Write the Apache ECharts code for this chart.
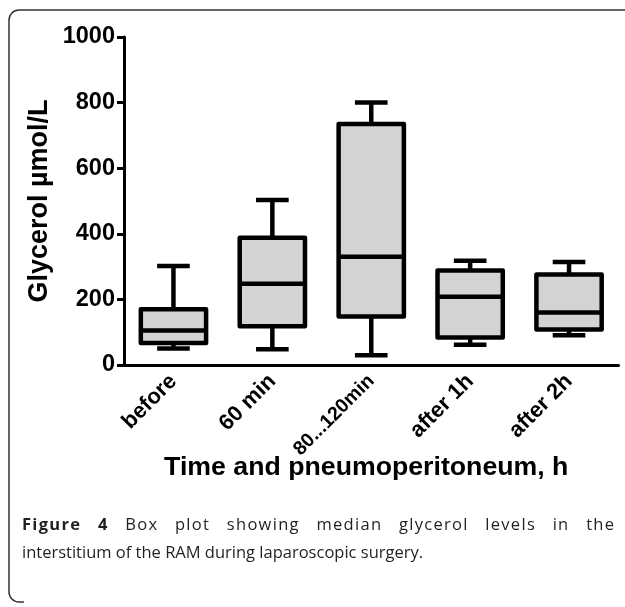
<!DOCTYPE html>
<html>
<head>
<meta charset="utf-8">
<script src="https://cdn.jsdelivr.net/npm/echarts@6/dist/echarts.min.js"></script>
<style>
    html, body { margin: 0; padding: 0; background: #fff; }
    #chartMain { width: 625px; height: 607px; }
</style>
</head>
<body>
<div id="chartMain"></div>
<script>
    // time points
    const categories = ['before', '60 min', '80...120min', 'after 1h', 'after 2h'];
    // glycerol, µmol/L : lower whisker, Q1, median, Q3, upper whisker
    const lows    = [50, 48, 30, 62, 91];
    const q1      = [67, 118, 148, 84, 108];
    const medians = [105, 248, 330, 208, 160];
    const q3      = [170, 388, 735, 288, 276];
    const highs   = [302, 503, 800, 318, 314];
    const yTicks  = { min: 0, max: 1000, interval: 200 };

    const axisFont = '"Liberation Sans", Arial, sans-serif';
    const capFont = '"Open Sans", "Noto Sans", sans-serif';

    let myChart = echarts.init(document.getElementById('chartMain'));

    // caption, first line is justified with a little letter spacing
    const line1 = [
        { t: 'Figure', b: true }, { t: '4', b: true },
        { t: 'Box' }, { t: 'plot' }, { t: 'showing' }, { t: 'median' },
        { t: 'glycerol' }, { t: 'levels' }, { t: 'in' }, { t: 'the' }
    ];
    const line2 = 'interstitium of the RAM during laparoscopic surgery.';

    let measure = document.createElement('canvas').getContext('2d');
    function fontOf(bold) {
        return (bold ? 'bold ' : '') + '16.5px ' + capFont;
    }
    let caption = [];
    let x0 = 22, x1 = 614;
    let letterSp = 1.3;
    let total = 0, letterGaps = 0;
    line1.forEach((w) => {
        measure.font = fontOf(w.b);
        w.chars = w.t.split('').map((ch) => measure.measureText(ch).width);
        total += w.chars.reduce((a, b) => a + b, 0);
        letterGaps += w.chars.length - 1;
    });
    let wordGap = (x1 - x0 - total - letterGaps * letterSp) / (line1.length - 1);
    let cx = x0;
    line1.forEach((w) => {
        w.t.split('').forEach((ch, k) => {
            caption.push({
                type: 'text', left: cx, top: 517, silent: true,
                style: { text: ch, font: fontOf(w.b), fill: '#231f20' }
            });
            cx += w.chars[k] + (k < w.chars.length - 1 ? letterSp : 0);
        });
        cx += wordGap;
    });
    caption.push({
        type: 'text', left: x0, top: 545, silent: true,
        style: { text: line2, font: fontOf(false), fill: '#231f20' }
    });

    // figure frame: top and left edges with rounded corners
    const frameStyle = { fill: 'none', stroke: '#333', lineWidth: 1.5 };
    const frame = [
        { type: 'line', silent: true, shape: { x1: 19, y1: 10, x2: 640, y2: 10 }, style: frameStyle },
        { type: 'line', silent: true, shape: { x1: 9, y1: 20, x2: 9, y2: 592 }, style: frameStyle },
        { type: 'line', silent: true, shape: { x1: 19, y1: 602, x2: 24, y2: 602 }, style: frameStyle },
        {
            type: 'arc', silent: true,
            shape: { cx: 19, cy: 20, r: 10, startAngle: Math.PI, endAngle: Math.PI * 1.5, clockwise: true },
            style: frameStyle
        },
        {
            type: 'arc', silent: true,
            shape: { cx: 19, cy: 592, r: 10, startAngle: Math.PI / 2, endAngle: Math.PI, clockwise: true },
            style: frameStyle
        }
    ];

    myChart.setOption({
        animation: false,
        backgroundColor: '#fff',
        grid: {
            left: 124, right: 6.5, top: 37, bottom: 242,
            containLabel: false, outerBoundsMode: 'none'
        },
        xAxis: {
            type: 'category',
            data: categories.map((c) => c.length > 9
                ? { value: c, textStyle: { fontSize: 19.5 } }
                : c),
            boundaryGap: true,
            name: 'Time and pneumoperitoneum, h',
            nameLocation: 'middle',
            nameGap: 89,
            nameMoveOverlap: false,
            nameTextStyle: {
                fontFamily: axisFont, fontWeight: 'bold', fontSize: 26.7, color: '#000',
                padding: [0, 10, 0, 0]
            },
            axisLine: { lineStyle: { color: '#000', width: 3 } },
            axisTick: { alignWithLabel: true, length: 8, lineStyle: { color: '#000', width: 3 } },
            axisLabel: {
                rotate: 45, margin: 13, interval: 0,
                fontFamily: axisFont, fontWeight: 'bold', fontSize: 22, color: '#000'
            },
            splitLine: { show: false }
        },
        yAxis: {
            type: 'value',
            min: yTicks.min, max: yTicks.max, interval: yTicks.interval,
            name: 'Glycerol \u00b5mol/L',
            nameLocation: 'middle',
            nameGap: 71,
            nameMoveOverlap: false,
            nameTextStyle: { fontFamily: axisFont, fontWeight: 'bold', fontSize: 27, color: '#000' },
            axisLine: { show: true, lineStyle: { color: '#000', width: 3 } },
            axisTick: { show: true, length: 7, lineStyle: { color: '#000', width: 3 } },
            axisLabel: {
                margin: 9, formatter: (v) => String(v),
                fontFamily: axisFont, fontWeight: 'bold', fontSize: 23.5, color: '#000'
            },
            splitLine: { show: false }
        },
        series: [{
            type: 'custom',
            encode: { x: 0, y: [1, 2, 3, 4, 5] },
            data: categories.map((c, i) => [i, lows[i], q1[i], medians[i], q3[i], highs[i]]),
            renderItem: function (params, api) {
                let i = api.value(0);
                let pLow = api.coord([i, api.value(1)]);
                let pQ1 = api.coord([i, api.value(2)]);
                let pMed = api.coord([i, api.value(3)]);
                let pQ3 = api.coord([i, api.value(4)]);
                let pHigh = api.coord([i, api.value(5)]);
                let band = api.size([1, 0])[0];
                let half = band * 0.66 / 2;
                let cap = half / 2;
                let x = pMed[0];
                let line = { stroke: '#000', lineWidth: 4.5 };
                return {
                    type: 'group',
                    children: [
                        { type: 'line', shape: { x1: x, y1: pHigh[1], x2: x, y2: pQ3[1] }, style: line },
                        { type: 'line', shape: { x1: x, y1: pLow[1], x2: x, y2: pQ1[1] }, style: line },
                        { type: 'line', shape: { x1: x - cap, y1: pHigh[1], x2: x + cap, y2: pHigh[1] }, style: line },
                        { type: 'line', shape: { x1: x - cap, y1: pLow[1], x2: x + cap, y2: pLow[1] }, style: line },
                        {
                            type: 'rect',
                            shape: { x: x - half, y: pQ3[1], width: half * 2, height: pQ1[1] - pQ3[1] },
                            style: { fill: '#d3d3d3', stroke: '#000', lineWidth: 4.5, lineJoin: 'round' }
                        },
                        { type: 'line', shape: { x1: x - half, y1: pMed[1], x2: x + half, y2: pMed[1] }, style: line }
                    ]
                };
            }
        }],
        graphic: frame.concat(caption)
    });
</script>
</body>
</html>
